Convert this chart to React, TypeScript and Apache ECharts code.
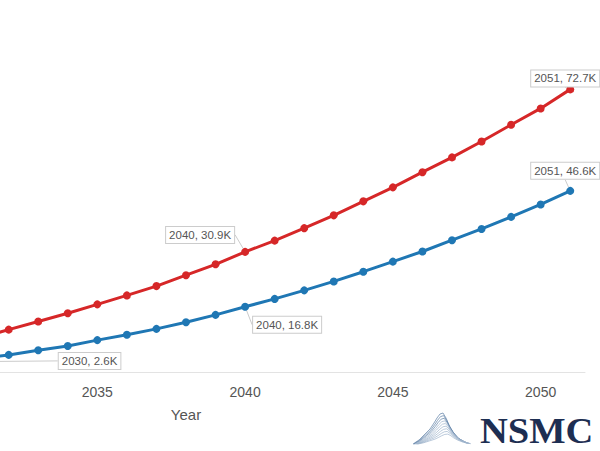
import React, { useEffect, useRef } from "react";
import * as echarts from "echarts";

const years = [
  "2025", "2026", "2027", "2028", "2029", "2030", "2031", "2032", "2033",
  "2034", "2035", "2036", "2037", "2038", "2039", "2040", "2041", "2042",
  "2043", "2044", "2045", "2046", "2047", "2048", "2049", "2050", "2051",
];

const redValues = [
  null, null, null, null, null,
  6.8, 8.7, 10.9, 13.0, 15.1, 17.4, 19.7, 22.1, 24.9, 27.7, 30.9,
  33.8, 37.0, 40.3, 43.9, 47.5, 51.4, 55.2, 59.3, 63.6, 67.8, 72.7,
];

const blueValues = [
  null, null, null, null, null,
  2.6, 3.4, 4.4, 5.6, 6.7, 8.2, 9.6, 11.1, 12.8, 14.7, 16.8,
  18.8, 21.0, 23.3, 25.8, 28.4, 31.0, 33.9, 36.8, 39.9, 43.1, 46.6,
];

const redLabelYears = ["2040", "2051"];
const blueLabelYears = ["2030", "2040", "2051"];
const firstVisibleTickYear = 2035;

// label offsets (px) from the point, keyed by year
const redLabelOffsets: Record<string, [number, number]> = {
  "2040": [-45, -17],
  "2051": [-5, -11],
};
const blueLabelOffsets: Record<string, [number, number]> = {
  "2030": [140, -1],
  "2040": [42, 18],
  "2051": [-5, -20],
};

const RED = "#d62728";
const BLUE = "#1f77b4";
const SHIFT = 213; // part of the chart that lies left of the visible page

function buildData(values: (number | null)[], labelYears: string[]) {
  return values.map((v, i) => {
    if (v !== null && labelYears.includes(years[i])) {
      return { value: v, label: { show: true }, labelLine: { show: true } };
    }
    return v;
  });
}

function mountainLines() {
  const outer: [number, number][] = [
    [413, 444], [419, 440], [425, 434], [430, 429], [434, 423], [437, 418],
    [440, 414], [443, 413], [446, 418], [449, 425], [453, 432], [458, 438], [466, 443],
  ];
  const baseY = 444;
  const out: any[] = [];
  for (let k = 0; k < 9; k++) {
    const f = 1 - k * 0.085;
    const shift = k * 0.6;
    const pts = outer.map(([x, y]) => [x + shift, baseY - (baseY - y) * f]);
    out.push({
      type: "polyline",
      shape: { points: pts },
      style: { stroke: k < 3 ? "#5d7fa6" : "#9db3cc", lineWidth: 0.7, fill: null },
      silent: true,
    });
  }
  return out;
}

export default function App() {
  const ref = useRef<HTMLDivElement>(null);
  useEffect(() => {
    if (!ref.current) return;
    const chart = echarts.init(ref.current, undefined, { renderer: "svg" });
    const labelStyle = {
      position: "inside",
      formatter: (p: any) => `${p.name}, ${Number(p.value).toFixed(1)}K`,
      color: "#555",
      fontSize: 11.5,
      fontFamily: "Liberation Sans",
      backgroundColor: "#fff",
      borderColor: "#ccc",
      borderWidth: 1,
      padding: [2, 3],
    };
    const makeLayout = (offsets: Record<string, [number, number]>) => (params: any) => {
      const o = offsets[years[params.dataIndex]] || [0, 0];
      return { dx: o[0], dy: o[1] };
    };
    chart.setOption({
      animation: false,
      backgroundColor: "#fff",
      grid: { left: 0, right: 15, top: 61, bottom: 79, containLabel: false },
      xAxis: {
        type: "category",
        data: years,
        boundaryGap: true,
        name: "Year",
        nameLocation: "middle",
        nameGap: 35,
        nameTextStyle: { color: "#555", fontSize: 15, fontFamily: "Liberation Sans" },
        axisLine: { show: true, lineStyle: { color: "#e3e3e3", width: 1 } },
        axisTick: { show: false },
        axisLabel: {
          interval: (index: number) =>
            index % 5 === 0 && Number(years[index]) >= firstVisibleTickYear,
          color: "#555",
          fontSize: 14,
          margin: 13,
          fontFamily: "Liberation Sans",
        },
        splitLine: { show: false },
      },
      yAxis: {
        type: "value",
        min: 0,
        max: 80,
        show: false,
        splitLine: { show: false },
      },
      series: [
        {
          name: "Red",
          type: "line",
          data: buildData(redValues, redLabelYears),
          itemStyle: { color: RED },
          lineStyle: { color: RED, width: 3 },
          symbol: "circle",
          symbolSize: 8,
          label: { show: false, ...labelStyle },
          labelLine: { show: true, lineStyle: { color: "#ccc", width: 1 } },
          labelLayout: makeLayout(redLabelOffsets),
          z: 3,
        },
        {
          name: "Blue",
          type: "line",
          data: buildData(blueValues, blueLabelYears),
          itemStyle: { color: BLUE },
          lineStyle: { color: BLUE, width: 3 },
          symbol: "circle",
          symbolSize: 8,
          label: { show: false, ...labelStyle },
          labelLine: { show: true, lineStyle: { color: "#ccc", width: 1 } },
          labelLayout: makeLayout(blueLabelOffsets),
          z: 3,
        },
      ],
      graphic: [
        {
          type: "group",
          x: SHIFT,
          y: 0,
          silent: true,
          children: [
            ...mountainLines(),
            {
              type: "text",
              x: 480,
              y: 431,
              scaleX: 1.1,
              style: {
                text: "NSMC",
                font: 'bold 35px "Liberation Serif"',
                fill: "#1d2e52",
                verticalAlign: "middle",
              },
            },
          ],
        },
      ],
    });
    return () => chart.dispose();
  }, []);
  return (
    <div
      style={{
        position: "fixed",
        left: 0,
        top: 0,
        width: 600,
        height: 451,
        overflow: "hidden",
        background: "#fff",
      }}
    >
      <div
        ref={ref}
        style={{ position: "absolute", left: -SHIFT, top: 0, width: 600 + SHIFT, height: 451 }}
      />
    </div>
  );
}
